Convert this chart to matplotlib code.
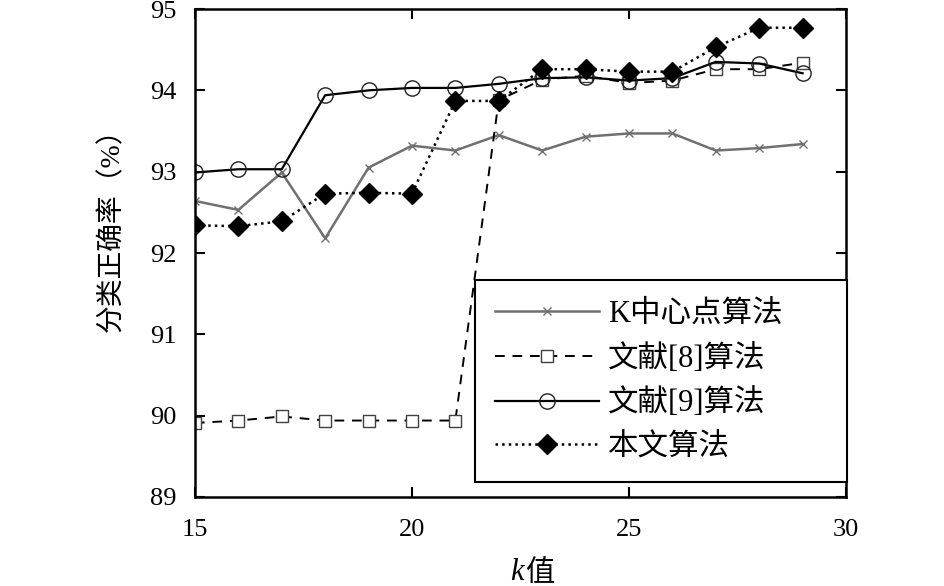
import matplotlib
matplotlib.use("Agg")
import matplotlib.pyplot as plt

plt.rcParams['font.family'] = ['Liberation Serif', 'Noto Sans CJK SC']

k_values = [15, 16, 17, 18, 19, 20, 21, 22, 23, 24, 25, 26, 27, 28, 29]
k_medoids = [92.64, 92.53, 92.99, 92.18, 93.05, 93.32, 93.26, 93.45, 93.26, 93.43, 93.47, 93.47, 93.26, 93.29, 93.34]
ref8 = [89.91, 89.94, 89.99, 89.94, 89.94, 89.94, 89.94, 93.88, 94.13, 94.18, 94.09, 94.12, 94.26, 94.26, 94.34]
ref9 = [92.99, 93.03, 93.03, 93.94, 94.00, 94.03, 94.03, 94.08, 94.15, 94.16, 94.12, 94.15, 94.35, 94.33, 94.21]
ours = [92.34, 92.33, 92.39, 92.73, 92.74, 92.73, 93.87, 93.87, 94.26, 94.26, 94.23, 94.23, 94.53, 94.77, 94.77]

labels = ['K中心点算法', '文献[8]算法', '文献[9]算法', '本文算法']
x_ticks = [15, 20, 25, 30]
y_ticks = [89, 90, 91, 92, 93, 94, 95]

fig = plt.figure(figsize=(9.45, 5.86), dpi=100)
ax = fig.add_axes([0.2063, 0.1519, 0.6889, 0.8327])

ax.plot(k_values, k_medoids, color='#707070', lw=1.8, marker='x', ms=6,
        mew=1.0, label=labels[0])
ax.plot(k_values, ref8, color='black', lw=1.4, dashes=(5, 4), marker='s', ms=8,
        mfc='white', mec='#404040', mew=1.0, label=labels[1])
ax.plot(k_values, ref9, color='black', lw=1.6, marker='o', ms=11,
        mfc='none', mec='#202020', mew=1.0, label=labels[2])
ax.plot(k_values, ours, color='black', lw=1.8, ls=':', marker='D', ms=10,
        mfc='black', mec='black', label=labels[3])

ax.set_xlim(15, 30)
ax.set_ylim(89, 95)
ax.set_xticks(x_ticks)
ax.set_yticks(y_ticks)
ax.tick_params(direction='in', top=True, right=True, length=7, width=1.5,
               labelsize=19, pad=13)
ax.tick_params(axis='x', pad=16)
for s in ax.spines.values():
    s.set_linewidth(1.8)

# x axis label: italic k followed by 值
ax.text(0.505, -0.155, 'k', transform=ax.transAxes, fontsize=22,
        family='Liberation Serif', style='italic', ha='right', va='center')
ax.text(0.507, -0.155, '值', transform=ax.transAxes, fontsize=21,
        family=['Noto Sans CJK SC'], ha='left', va='center')

ax.set_ylabel('分类正确率（%）', fontsize=20)
ax.yaxis.set_label_coords(-0.108, 0.56)

leg = ax.legend(loc='lower left', bbox_to_anchor=(0.43, 0.031, 0.571, 0.0),
                mode='expand', borderaxespad=0,
                fancybox=False, framealpha=1, edgecolor='black', fontsize=22,
                handlelength=3.4, handletextpad=0.3, labelspacing=0.48,
                borderpad=0.65)
leg.get_frame().set_linewidth(1.5)

fig.savefig('out.png', dpi=100)
